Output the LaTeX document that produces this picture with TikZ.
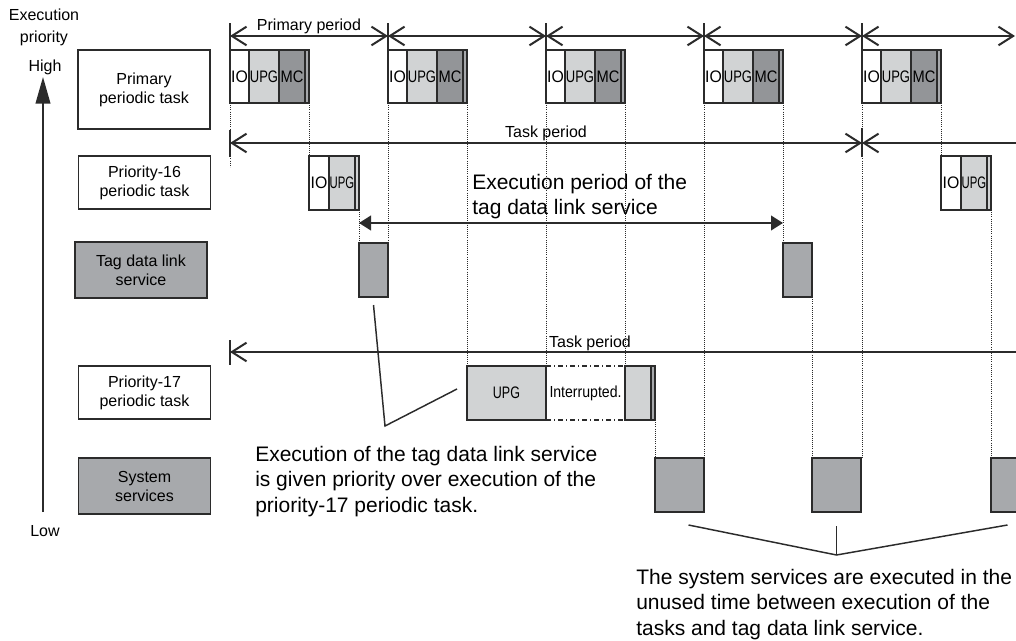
\documentclass[tikz,border=0pt]{standalone}
\usepackage{fontspec}
\setmainfont{Liberation Sans}
\usepackage{xcolor}
\usepackage{graphicx}
\usepackage{tikz}
\usetikzlibrary{arrows.meta,positioning,calc}
\definecolor{chartink}{HTML}{2B2B2B}
\definecolor{chartlight}{HTML}{D1D3D4}
\definecolor{chartmid}{HTML}{A7A9AC}
\definecolor{chartdark}{HTML}{939598}
\newcommand{\narrowtext}[2][0.8]{\scalebox{#1}[1]{#2}}
\tikzset{
  pbarb/.tip={Straight Barb[length=11pt,width=14pt]},
  ptri/.tip={Triangle[length=9pt,width=11pt]},
  labelbox/.style={draw=chartink, line width=1.1pt, align=center, font=\fontsize{12}{14.25}\selectfont, minimum width=99pt, inner sep=0pt},
  seg/.style={draw=chartink, line width=0.9pt, inner sep=0pt, outer sep=0pt, minimum height=39.75pt, font=\fontsize{12.5}{14}\selectfont},
  periodtick/.style={draw=chartink, line width=1.1pt},
  periodedge/.style={pbarb-pbarb, line width=1.5pt, draw=chartink},
  spanedge/.style={ptri-ptri, line width=1.5pt, draw=chartink},
  dotedge/.style={draw=chartink, line width=0.6pt, dash pattern=on 0.6pt off 1pt},
  breakedge/.style={draw=chartink, line width=0.8pt, dash pattern=on 4pt off 2pt on 1pt off 2pt},
  leader/.style={draw=chartink, line width=1.1pt},
  note/.style={align=left, font=\fontsize{15.75}{19}\selectfont, inner sep=0pt, anchor=north west},
  smalltext/.style={font=\fontsize{12}{16.5}\selectfont, inner sep=1pt, align=center}
}
\begin{document}
\begin{tikzpicture}[x=0.75pt, y=-0.75pt]
  \useasboundingbox (0,0) rectangle (1016,641);
  % priority axis and row labels
  \node[smalltext] (prio) at (44,27) {Execution\\priority};
  \node[smalltext] (high) at (45,67) {High};
  \node[smalltext] (low) at (45,531) {Low};
  \coordinate (axbot) at (43,512);
  \coordinate (axtop) at (43,77);
  \draw[-{Triangle[length=20pt,width=11pt]}, line width=1.5pt, draw=chartink] (axbot) -- (axtop);
  \node[labelbox, minimum height=59.25pt] (lprim) at (144,89.5) {Primary\\periodic task};
  \node[labelbox, minimum height=39.75pt] (lp16) at (144.5,182.5) {Priority-16\\periodic task};
  \node[labelbox, fill=chartmid, minimum height=42pt] (ltdl) at (141,270) {Tag data link\\service};
  \node[labelbox, minimum height=39.75pt] (lp17) at (144.5,392.5) {Priority-17\\periodic task};
  \node[labelbox, fill=chartmid, minimum height=42pt] (lsys) at (144.5,486) {System\\services};
  % primary periodic task
  \foreach \k/\x in {1/230,2/388,3/546,4/704,5/862}{
    \node[seg, fill=white, minimum width=14.25pt, anchor=north west] (io\k) at (\x,50) {\narrowtext[0.95]{IO}};
    \node[seg, fill=chartlight, minimum width=22.5pt, right=0pt of io\k] (upg\k) {\narrowtext[0.78]{UPG}};
    \node[seg, fill=chartdark, minimum width=19.5pt, right=0pt of upg\k] (mc\k) {\narrowtext[0.88]{MC}};
    \node[seg, fill=chartmid, minimum width=3pt, right=0pt of mc\k] (end\k) {};
    \draw[periodtick] (io\k.north west) -- ++(0,-27);
    \coordinate (pp\k) at (\x,36);
  }
  \coordinate (pp6) at (1015,36);
  \draw[periodedge] (pp1) -- node[above, smalltext] (pplabel) {Primary period} (pp2);
  \foreach \a/\b in {2/3,3/4,4/5,5/6}
    \draw[periodedge] (pp\a) -- (pp\b);
  % task period of the primary / priority-16 tasks
  \coordinate (tp0) at (230,143);
  \coordinate (tp1) at (862,143);
  \coordinate (tp2) at (1040,143);
  \draw[periodtick] (tp0) ++(0,-13) -- ++(0,27);
  \draw[periodtick] (tp1) ++(0,-15) -- ++(0,29);
  \draw[periodedge] (tp0) -- node[above, smalltext] (tplabel) {Task period} (tp1);
  \draw[periodedge, pbarb-] (tp1) -- (tp2);
  % priority-16 periodic task
  \foreach \k/\x in {a/309,b/941}{
    \node[seg, fill=white, minimum width=15pt, minimum height=40.5pt, anchor=north west] (io16\k) at (\x,156) {\narrowtext[0.95]{IO}};
    \node[seg, fill=chartlight, minimum width=19.5pt, minimum height=40.5pt, right=0pt of io16\k] (upg16\k) {\narrowtext[0.68]{UPG}};
    \node[seg, fill=chartlight, minimum width=3pt, minimum height=40.5pt, right=0pt of upg16\k] (end16\k) {};
  }
  % tag data link service
  \node[seg, fill=chartmid, minimum width=21.75pt, minimum height=40.5pt, anchor=north west] (tdl1) at (359,243) {};
  \node[seg, fill=chartmid, minimum width=21.75pt, minimum height=40.5pt, anchor=north west] (tdl2) at (783,243) {};
  \coordinate (ep0) at ($(tdl1.north west)+(0,-20)$);
  \coordinate (ep1) at ($(tdl2.north west)+(0,-20)$);
  \draw[spanedge] (ep0) -- (ep1);
  \node[note] (eplabel) at (472,174) {Execution period of the\\tag data link service};
  % priority-17 periodic task
  \coordinate (tq0) at (230,352);
  \coordinate (tq1) at (1040,352);
  \draw[periodtick] (tq0) ++(0,-12) -- ++(0,25);
  \draw[periodedge, pbarb-] (tq0) -- (tq1);
  \node[smalltext, anchor=south] (tqlabel) at (590,352) {Task period};
  \node[seg, fill=chartlight, minimum width=59.25pt, minimum height=40.5pt, anchor=north west] (upg17) at (467,366) {\narrowtext[0.75]{UPG}};
  \node[seg, fill=chartlight, minimum width=19.5pt, minimum height=40.5pt, anchor=north west] (res17) at (625,366) {};
  \node[seg, fill=chartmid, minimum width=3pt, minimum height=40.5pt, right=0pt of res17] (end17) {};
  \draw[breakedge] (upg17.north east) -- (res17.north west);
  \draw[breakedge] (upg17.south east) -- (res17.south west);
  \node[font=\fontsize{12}{14}\selectfont, inner sep=0pt] (intr) at ($(upg17.east)!0.5!(res17.west)$) {\narrowtext[0.88]{Interrupted.}};
  % system services
  \foreach \k/\x in {1/655,2/812,3/991}
    \node[seg, fill=chartmid, minimum width=36.75pt, minimum height=40.5pt, anchor=north west] (ss\k) at (\x,458) {};
  % timing guides
  \draw[dotedge] (io1.south west) -- ++(0,64);
  \draw[dotedge] (end1.south east) -- (end1.south east |- io16a.north);
  \draw[dotedge] (end16a.south east) -- (end16a.south east |- tdl1.north);
  \draw[dotedge] (io2.south west) -- (io2.south west |- tdl1.north);
  \draw[dotedge] (end2.south east) -- (end2.south east |- upg17.north);
  \draw[dotedge] (io3.south west) -- (io3.south west |- upg17.north);
  \draw[dotedge] (end3.south east) -- (end3.south east |- res17.north);
  \draw[dotedge] (end17.south east) -- (end17.south east |- ss1.north);
  \draw[dotedge] (io4.south west) -- (io4.south west |- ss1.north);
  \draw[dotedge] (end4.south east) -- (end4.south east |- tdl2.north);
  \draw[dotedge] (tdl2.south east) -- (tdl2.south east |- ss2.north);
  \draw[dotedge] (io5.south west) -- (io5.south west |- ss2.north);
  \draw[dotedge] (end5.south east) -- (end5.south east |- io16b.north);
  \draw[dotedge] (end16b.south east) -- (end16b.south east |- ss3.north);
  % notes
  \coordinate (bend1) at (385,426);
  \draw[leader] ($(tdl1.south)+(0,8)$) -- (bend1) -- ($(upg17.west)+(-10,-4)$);
  \node[note] (note1) at (255,446) {Execution of the tag data link service\\is given priority over execution of the\\priority-17 periodic task.};
  \coordinate (bend2) at ($(ss2.south)+(0,43)$);
  \draw[leader] ($(ss1.south)+(9,13)$) -- (bend2) -- ($(ss3.south)+(-8,13)$);
  \draw[leader] ($(ss2.south)+(0,14)$) -- (bend2);
  \node[note] (note2) at (636,569) {The system services are executed in the\\unused time between execution of the\\tasks and tag data link service.};
\end{tikzpicture}
\end{document}
